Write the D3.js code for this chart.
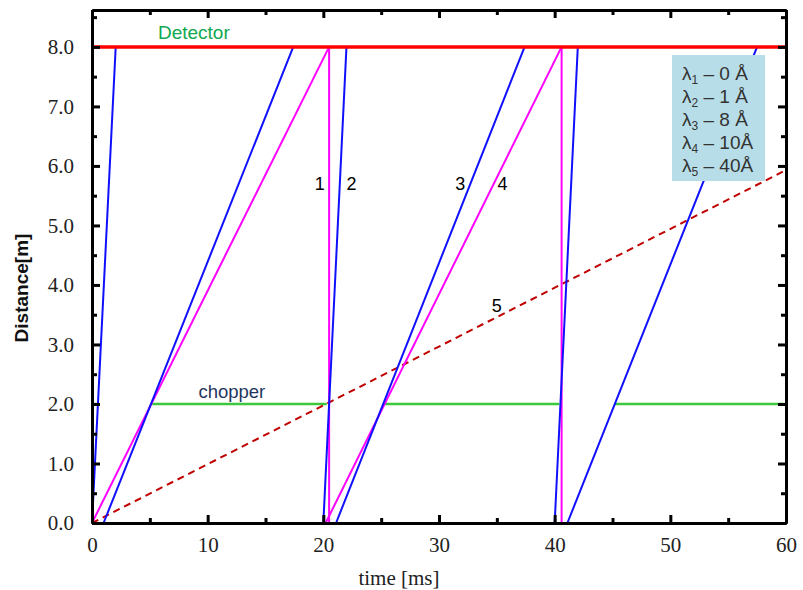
<!DOCTYPE html>
<html>
<head>
<meta charset="utf-8">
<script src="https://cdn.jsdelivr.net/npm/d3@7"></script>
<style>
  body { margin: 0; background: #fff; }
  svg { display: block; }
</style>
</head>
<body>
<svg id="chart" width="803" height="590"></svg>
<script>
// trajectories: [time ms, distance m]
var fastLines = [            // lambda 2 = 1 A
    [[0, 0], [2.05, 8]],
    [[20.0, 0], [22.0, 8]],
    [[40.0, 0], [42.0, 8]]
]
var slowLines = [            // lambda 3 = 8 A
    [[1.0, 0], [17.4, 8]],
    [[21.1, 0], [37.4, 8]],
    [[41.1, 0], [57.5, 8]]
]
var tenLines = [             // lambda 4 = 10 A
    [[0, 0], [20.5, 8]],
    [[20.2, 0], [40.6, 8]]
]
var zeroLines = [            // lambda 1 = 0 A
    [[20.5, 0], [20.5, 8]],
    [[40.6, 0], [40.6, 8]]
]
var fortyLine = [[0, 0], [60, 5.93]]   // lambda 5 = 40 A

var detectorPos = 8
var chopperPos = 2
var chopperClosed = [[0, 0.6], [5.2, 20.3], [25.3, 40.4], [45.2, 60]]

var xMajor = [0, 10, 20, 30, 40, 50, 60]
var xMinor = [5, 15, 25, 35, 45, 55]
var yMajor = [0, 1, 2, 3, 4, 5, 6, 7, 8]
var yMinor = [0.5, 1.5, 2.5, 3.5, 4.5, 5.5, 6.5, 7.5, 8.5]

var curveLabels = [
    {text: "1", t: 19.25, d: 5.6},
    {text: "2", t: 22.0, d: 5.6},
    {text: "3", t: 31.4, d: 5.6},
    {text: "4", t: 35.05, d: 5.6},
    {text: "5", t: 34.55, d: 3.55}
]
var legendSubs = ["1", "2", "3", "4", "5"]
var legendVals = ["0 Å", "1 Å", "8 Å", "10Å", "40Å"]

var dimensions = {
    width: 803,
    height: 590,
    margin: {top: 10, bottom: 67, left: 92, right: 17}
}
var innerW = dimensions.width - dimensions.margin.left - dimensions.margin.right
var innerH = dimensions.height - dimensions.margin.top - dimensions.margin.bottom

var serif = "'Liberation Serif', 'Times New Roman', serif"
var sans = "'Liberation Sans', Arial, sans-serif"

var svg = d3.select("#chart")

var g = svg.append("g")
           .attr("transform", `translate(${dimensions.margin.left},${dimensions.margin.top})`)

var xScale = d3.scaleLinear().domain([0, 60]).range([0, innerW])
var yScale = d3.scaleLinear().domain([0, 8.62]).range([innerH, 0])

var line = d3.line()
             .x(d => xScale(d[0]))
             .y(d => yScale(d[1]))

// chopper
g.append("g")
 .selectAll("line")
 .data(chopperClosed)
 .enter()
 .append("line")
 .attr("x1", d => xScale(d[0]))
 .attr("x2", d => xScale(d[1]))
 .attr("y1", yScale(chopperPos))
 .attr("y2", yScale(chopperPos))
 .attr("stroke", "#3cc83c")
 .attr("stroke-width", 2.5)

// 40 A dashed
g.append("path")
 .attr("d", line(fortyLine))
 .attr("fill", "none")
 .attr("stroke", "#c00000")
 .attr("stroke-width", 2)
 .attr("stroke-dasharray", "7,5")

function drawSet(data, color) {
    g.append("g")
     .selectAll("path")
     .data(data)
     .enter()
     .append("path")
     .attr("d", d => line(d))
     .attr("fill", "none")
     .attr("stroke", color)
     .attr("stroke-width", 2)
}
drawSet(tenLines, "#ff00ff")
drawSet(zeroLines, "#ff00ff")
drawSet(slowLines, "#1010ff")
drawSet(fastLines, "#1010ff")

// detector
g.append("line")
 .attr("x1", xScale(0))
 .attr("x2", xScale(60))
 .attr("y1", yScale(detectorPos))
 .attr("y2", yScale(detectorPos))
 .attr("stroke", "#ff0000")
 .attr("stroke-width", 3.5)

// legend box
var legend = g.append("g")
legend.append("rect")
      .attr("x", 580)
      .attr("y", 45)
      .attr("width", 93)
      .attr("height", 126)
      .attr("fill", "#b7dee8")

legendSubs.forEach(function(s, i) {
    var t = legend.append("text")
                  .attr("x", 590)
                  .attr("y", 70 + i * 23)
                  .attr("font-family", sans)
                  .attr("font-size", 19)
                  .attr("fill", "#333")
    t.append("tspan").text("λ")
    t.append("tspan").attr("font-size", 12).attr("dy", 4).text(s)
    t.append("tspan").attr("dy", -4).text(" – " + legendVals[i])
})

// annotations
g.append("g")
 .selectAll("text")
 .data(curveLabels)
 .enter()
 .append("text")
 .attr("x", d => xScale(d.t))
 .attr("y", d => yScale(d.d))
 .attr("font-family", sans)
 .attr("font-size", 18)
 .attr("fill", "#000")
 .text(d => d.text)

g.append("text")
 .attr("x", xScale(5.7))
 .attr("y", yScale(8.13))
 .attr("font-family", sans)
 .attr("font-size", 19)
 .attr("fill", "#10a850")
 .text("Detector")

g.append("text")
 .attr("x", xScale(9.2))
 .attr("y", yScale(2.1))
 .attr("font-family", sans)
 .attr("font-size", 18.5)
 .attr("fill", "#1f3660")
 .text("chopper")

// axes, ticks pointing inward
function styleAxis(sel) {
    sel.selectAll("path").attr("stroke", "#000").attr("stroke-width", 3)
    sel.selectAll("line").attr("stroke", "#000").attr("stroke-width", 3)
    sel.selectAll("text").attr("font-family", serif).attr("font-size", 21).attr("fill", "#222")
}

var xAxis = g.append("g")
             .attr("transform", `translate(0,${innerH})`)
             .call(d3.axisBottom(xScale).tickValues(xMajor).tickSize(-8).tickSizeOuter(0).tickPadding(14).tickFormat(d3.format("d")))
styleAxis(xAxis)
var xAxisMinor = g.append("g")
                  .attr("transform", `translate(0,${innerH})`)
                  .call(d3.axisBottom(xScale).tickValues(xMinor).tickSize(-5).tickSizeOuter(0).tickFormat(""))
styleAxis(xAxisMinor)

var topAxis = g.append("g")
               .call(d3.axisTop(xScale).tickValues(xMajor).tickSize(-8).tickSizeOuter(0).tickFormat(""))
styleAxis(topAxis)
var topAxisMinor = g.append("g")
                    .call(d3.axisTop(xScale).tickValues(xMinor).tickSize(-5).tickSizeOuter(0).tickFormat(""))
styleAxis(topAxisMinor)

var yAxis = g.append("g")
             .call(d3.axisLeft(yScale).tickValues(yMajor).tickSize(-8).tickSizeOuter(0).tickPadding(18).tickFormat(d3.format(".1f")))
styleAxis(yAxis)
var yAxisMinor = g.append("g")
                  .call(d3.axisLeft(yScale).tickValues(yMinor).tickSize(-5).tickSizeOuter(0).tickFormat(""))
styleAxis(yAxisMinor)

var rightAxis = g.append("g")
                 .attr("transform", `translate(${innerW},0)`)
                 .call(d3.axisRight(yScale).tickValues(yMajor).tickSize(-8).tickSizeOuter(0).tickFormat(""))
styleAxis(rightAxis)
var rightAxisMinor = g.append("g")
                      .attr("transform", `translate(${innerW},0)`)
                      .call(d3.axisRight(yScale).tickValues(yMinor).tickSize(-5).tickSizeOuter(0).tickFormat(""))
styleAxis(rightAxisMinor)

// axis titles
svg.append("text")
   .attr("x", 399)
   .attr("y", 585)
   .attr("text-anchor", "middle")
   .attr("font-family", serif)
   .attr("font-size", 21)
   .attr("fill", "#222")
   .text("time [ms]")

svg.append("text")
   .attr("transform", "translate(28,288) rotate(-90)")
   .attr("text-anchor", "middle")
   .attr("font-family", sans)
   .attr("font-weight", "bold")
   .attr("font-size", 19)
   .attr("fill", "#111")
   .text("Distance[m]")
</script>
</body>
</html>
